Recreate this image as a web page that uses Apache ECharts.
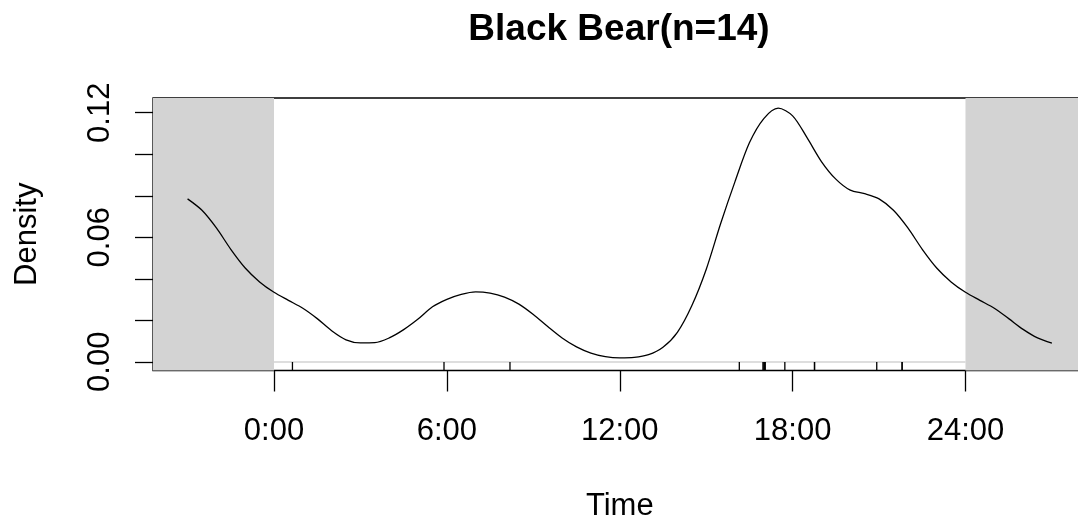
<!DOCTYPE html>
<html>
<head>
<meta charset="utf-8">
<script src="https://cdn.jsdelivr.net/npm/echarts@6/dist/echarts.min.js"></script>
<style>
html,body{margin:0;padding:0;background:#fff;}
#chart{width:1078px;height:519px;}
</style>
</head>
<body>
<div id="chart"></div>
<script>
// ---- data ----
const titleText = 'Black Bear(n=14)';
const xLabel = 'Time';
const yLabel = 'Density';

// hours of the density curve (wrapped past midnight on both sides)
const hours = [-3,-2.5,-2,-1.5,-1,-0.5,0,0.5,1,1.5,2,2.5,3,3.5,4,4.5,5,5.5,6,6.5,7,7.5,8,8.5,9,9.5,10,10.5,11,11.5,12,12.5,13,13.5,14,14.5,15,15.5,16,16.5,17,17.5,18,18.5,19,19.5,20,20.5,21,21.5,22,22.5,23,23.5,24,24.5,25,25.5,26,26.5,27];
const density = [0.0785,0.0730,0.0645,0.0542,0.0452,0.0385,0.0335,0.0296,0.0258,0.0208,0.0150,0.0106,0.0091,0.0092,0.0115,0.0155,0.0206,0.0265,0.0301,0.0325,0.0337,0.0331,0.0312,0.0278,0.0228,0.0170,0.0115,0.0072,0.0042,0.0025,0.0019,0.0021,0.0034,0.0070,0.0142,0.0270,0.0445,0.0665,0.0868,0.1055,0.1172,0.1222,0.1185,0.1080,0.0965,0.0880,0.0827,0.0810,0.0785,0.0730,0.0645,0.0542,0.0452,0.0385,0.0335,0.0296,0.0258,0.0208,0.0156,0.0115,0.0090];

// individual detection times (rug), hours
const rugTimes = [0.64,5.90,8.19,16.15,16.97,17.0,17.03,17.05,17.73,18.76,18.76,20.92,21.80,21.80];

const xTickValues = [0,6,12,18,24];
const xTickLabels = ['0:00','6:00','12:00','18:00','24:00'];
const yTickValues = [0,0.02,0.04,0.06,0.08,0.10,0.12];
const yLabelValues = [0,0.06,0.12];

const xRange = [-4.2, 28.2];
const yRange = [-0.0042, 0.1271];
const dayStart = 0, dayEnd = 24;

// ---- chart ----
const FONT = "'Liberation Sans', Arial, sans-serif";
const chart = echarts.init(document.getElementById('chart'), null, {renderer:'canvas'});
const curve = hours.map((h,i)=>[h, density[i]]);

chart.setOption({
  animation:false,
  backgroundColor:'#ffffff',
  title:{
    text:titleText,
    left:614, top:6, textAlign:'center',
    textStyle:{fontFamily:FONT,fontSize:37,fontWeight:'bold',color:'#000'}
  },
  grid:{left:153, top:98, width:933.5, height:272.5, show:true, borderColor:'#000', borderWidth:1.3,
    backgroundColor:'transparent', containLabel:false, outerBoundsMode:'none'},
  xAxis:{
    type:'value', min:xRange[0], max:xRange[1],
    name:xLabel, nameLocation:'middle', nameGap:120,
    nameTextStyle:{fontFamily:FONT,fontSize:31,color:'#000'},
    axisLine:{show:false, onZero:false},
    splitLine:{show:false},
    axisTick:{show:true, length:21, lineStyle:{color:'#000',width:1.3}, customValues:xTickValues},
    axisLabel:{show:true, margin:45, fontFamily:FONT, fontSize:31, color:'#000',
      customValues:xTickValues,
      formatter:(v)=>{const i=xTickValues.indexOf(v); return i>=0?xTickLabels[i]:'';}}
  },
  yAxis:{
    type:'value', min:yRange[0], max:yRange[1],
    name:yLabel, nameLocation:'middle', nameGap:110, nameRotate:90,
    nameTextStyle:{fontFamily:FONT,fontSize:31,color:'#000'},
    axisLine:{show:false, onZero:false},
    splitLine:{show:false},
    axisTick:{show:true, length:18, lineStyle:{color:'#000',width:1.3}, customValues:yTickValues},
    axisLabel:{show:true, rotate:90, margin:37, fontFamily:FONT, fontSize:31, color:'#000',
      customValues:yLabelValues,
      formatter:(v)=>v.toFixed(2)}
  },
  series:[
    {
      type:'line', data:curve, showSymbol:false, smooth:0.3,
      lineStyle:{color:'#000',width:1.3},
      z:5,
      markArea:{silent:true, itemStyle:{color:'#d3d3d3'},
        data:[[{xAxis:xRange[0]},{xAxis:dayStart}],[{xAxis:dayEnd},{xAxis:xRange[1]}]]},
      markLine:{silent:true, symbol:'none', label:{show:false},
        lineStyle:{color:'#d3d3d3',width:1.5,type:'solid'},
        data:[[{coord:[dayStart,0]},{coord:[dayEnd,0]}]]}
    },
    {
      type:'custom', z:6,
      data:rugTimes.map(t=>[t]),
      renderItem:(params, api)=>{
        const p = api.coord([api.value(0), yRange[0]]);
        return {type:'line', shape:{x1:p[0],y1:p[1],x2:p[0],y2:p[1]-8.5},
          style:{stroke:'#000',lineWidth:1.3}};
      }
    }
  ]
});
</script>
</body>
</html>
